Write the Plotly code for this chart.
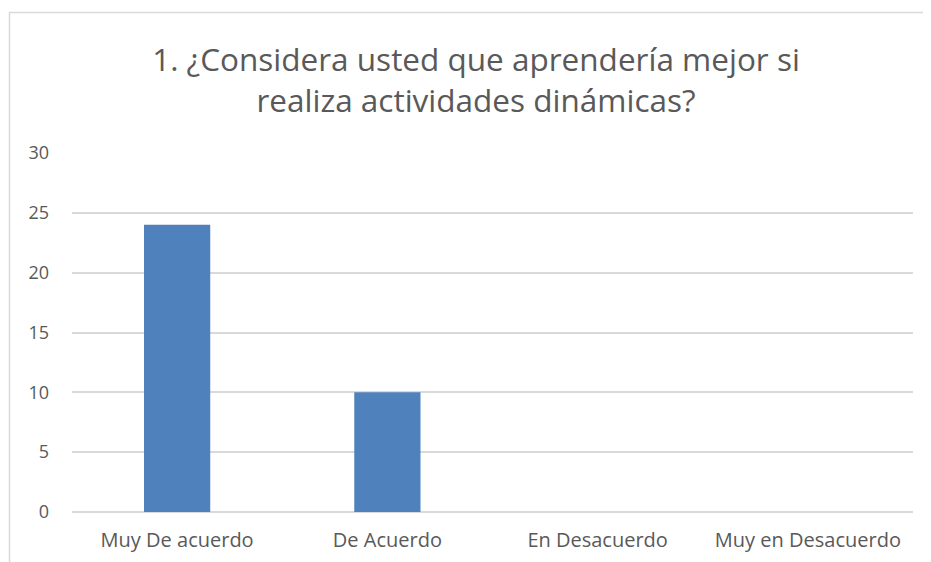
import plotly.graph_objects as go

categories = ["Muy De acuerdo", "De Acuerdo", "En Desacuerdo", "Muy en Desacuerdo"]
values = [24, 10, 0, 0]
y_ticks = [0, 5, 10, 15, 20, 25, 30]

# page body has an 8px margin, so figure coords = screen coords - 8
OFF = 8
W, H = 931, 562
L = 72 - OFF
R = W - (913 - OFF)
T = 153 - OFF
B = H - (512 - OFF)
pw, ph = W - L - R, H - T - B

def px_x(p):
    return (p - OFF - L) / pw

def px_y(p):
    return (H - B - (p - OFF)) / ph

fig = go.Figure(go.Bar(x=categories, y=values, marker=dict(color="#4f81bd", line=dict(width=0)), width=0.315))

fig.update_layout(
    width=W, height=H,
    margin=dict(l=L, r=R, t=T, b=B),
    paper_bgcolor="white", plot_bgcolor="white",
    font=dict(family="Open Sans, sans-serif", color="#595959"),
    title=dict(
        text="1. ¿Considera usted que aprendería mejor si<br>realiza actividades dinámicas?",
        x=(476 - OFF) / W, xanchor="center", y=1 - (71 - OFF) / H, yanchor="middle",
        font=dict(size=31.5, color="#595959"),
    ),
    showlegend=False,
    xaxis=dict(showgrid=False, showline=False, ticks="", tickfont=dict(size=20, color="#595959"),
               ticklabelstandoff=14),
    yaxis=dict(range=[0, 30], tickvals=y_ticks, showgrid=True, gridcolor="#d9d9d9", gridwidth=1.5,
               zeroline=True, zerolinecolor="#d9d9d9", zerolinewidth=1.5, showline=False,
               tickfont=dict(size=18, color="#595959"), ticklabelstandoff=22),
    shapes=[dict(type="rect", xref="paper", yref="paper",
                 x0=px_x(9.5), x1=px_x(980), y0=px_y(600), y1=px_y(12.5),
                 line=dict(color="#d9d9d9", width=1.5), fillcolor="rgba(0,0,0,0)", layer="below")],
)

fig.write_html("out.html")
